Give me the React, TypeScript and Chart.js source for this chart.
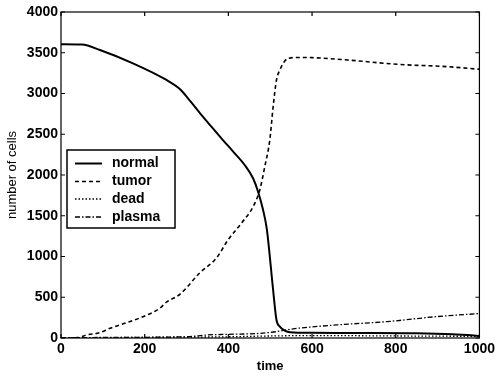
import React, { useEffect, useRef } from "react";
import { Chart, registerables } from "chart.js";

Chart.register(...registerables);

const seriesNames = ["normal", "tumor", "dead", "plasma"];

const normalTime = [0, 50, 93, 172, 252, 284, 310, 332, 360, 387, 411, 439, 459, 471, 483, 491, 495, 506, 515, 523, 535, 547, 600, 700, 849, 936, 992, 1000];
const normalCells = [3605, 3600, 3534, 3370, 3166, 3055, 2900, 2760, 2590, 2429, 2290, 2123, 1960, 1795, 1570, 1366, 1202, 638, 221, 139, 90, 70, 63, 61, 57, 45, 28, 25];

const tumorTime = [0, 40, 61, 93, 117, 157, 196, 236, 252, 284, 332, 372, 399, 431, 459, 475, 487, 499, 507, 515, 523, 531, 543, 570, 600, 685, 804, 924, 1000];
const tumorCells = [0, 5, 37, 65, 119, 188, 262, 364, 440, 536, 801, 985, 1202, 1407, 1611, 1816, 2102, 2429, 2838, 3166, 3288, 3370, 3432, 3442, 3440, 3411, 3358, 3329, 3297];

const deadTime = [0, 200, 400, 500, 600, 800, 1000];
const deadCells = [0, 8, 15, 25, 30, 25, 20];

const plasmaTime = [0, 300, 348, 400, 475, 515, 547, 658, 777, 897, 1000];
const plasmaCells = [5, 15, 37, 45, 57, 78, 107, 160, 200, 262, 300];

const xTicks = [0, 200, 400, 600, 800, 1000];
const yTicks = [0, 500, 1000, 1500, 2000, 2500, 3000, 3500, 4000];

const FONT = "'Liberation Sans', Arial, sans-serif";

const styles = [
  { width: 2, dash: [] as number[] },
  { width: 1.6, dash: [4, 3] },
  { width: 1.3, dash: [1.5, 2] },
  { width: 1.3, dash: [5, 2, 1.5, 2] },
];

const pts = (t: number[], v: number[]) => t.map((x, i) => ({ x, y: v[i] }));

const framePlugin = {
  id: "frame",
  afterDatasetsDraw(chart: any) {
    const { ctx, chartArea: a, scales } = chart;
    ctx.save();
    ctx.strokeStyle = "#000";
    ctx.lineWidth = 1.2;
    ctx.setLineDash([]);
    ctx.strokeRect(a.left, a.top, a.right - a.left, a.bottom - a.top);
    const tl = 4;
    ctx.beginPath();
    xTicks.forEach((v) => {
      const px = scales.x.getPixelForValue(v);
      ctx.moveTo(px, a.bottom);
      ctx.lineTo(px, a.bottom - tl);
      ctx.moveTo(px, a.top);
      ctx.lineTo(px, a.top + tl);
    });
    yTicks.forEach((v) => {
      const py = scales.y.getPixelForValue(v);
      ctx.moveTo(a.left, py);
      ctx.lineTo(a.left + tl, py);
      ctx.moveTo(a.right, py);
      ctx.lineTo(a.right - tl, py);
    });
    ctx.stroke();

    // legend
    const bx = 67, by = 150, bw = 108, bh = 78;
    ctx.fillStyle = "#fff";
    ctx.fillRect(bx, by, bw, bh);
    ctx.lineWidth = 1.5;
    ctx.strokeRect(bx, by, bw, bh);
    const rows = [163.5, 181.5, 199, 217];
    ctx.font = `bold 14px ${FONT}`;
    ctx.textBaseline = "middle";
    ctx.textAlign = "left";
    seriesNames.forEach((name, i) => {
      const y = rows[i];
      ctx.beginPath();
      ctx.lineWidth = styles[i].width;
      ctx.setLineDash(styles[i].dash);
      ctx.moveTo(75, y);
      ctx.lineTo(102, y);
      ctx.stroke();
      ctx.setLineDash([]);
      ctx.fillStyle = "#000";
      ctx.fillText(name, 112, y);
    });
    ctx.restore();
  },
};

export default function App() {
  const ref = useRef<HTMLCanvasElement>(null);
  useEffect(() => {
    if (!ref.current) return;
    const series = [
      pts(normalTime, normalCells),
      pts(tumorTime, tumorCells),
      pts(deadTime, deadCells),
      pts(plasmaTime, plasmaCells),
    ];
    const chart = new Chart(ref.current, {
      type: "line",
      data: {
        datasets: series.map((d, i) => ({
          label: seriesNames[i],
          data: d,
          borderColor: "#000",
          borderWidth: styles[i].width,
          borderDash: styles[i].dash,
          pointRadius: 0,
          cubicInterpolationMode: "monotone",
          fill: false,
        })),
      },
      options: {
        animation: false,
        responsive: true,
        maintainAspectRatio: false,
        layout: { padding: { top: 12, right: 18, left: 0, bottom: 0 } },
        plugins: { legend: { display: false }, tooltip: { enabled: false } },
        scales: {
          x: {
            type: "linear",
            min: 0,
            max: 1000,
            afterBuildTicks: (s: any) => {
              s.ticks = xTicks.map((v) => ({ value: v }));
            },
            afterFit: (s: any) => {
              s.height = 38;
            },
            ticks: {
              color: "#000",
              font: { family: FONT, size: 14, weight: "bold" },
              padding: 3,
              maxRotation: 0,
              callback: (v: any) => String(v),
            },
            grid: { display: false, drawTicks: false },
            border: { display: false },
            title: {
              display: true,
              text: "time",
              color: "#000",
              font: { family: FONT, size: 13, weight: "bold" },
              padding: { top: 0, bottom: 2 },
            },
          },
          y: {
            type: "linear",
            min: 0,
            max: 4000,
            afterBuildTicks: (s: any) => {
              s.ticks = yTicks.map((v) => ({ value: v }));
            },
            afterFit: (s: any) => {
              s.width = 61;
            },
            ticks: {
              color: "#000",
              font: { family: FONT, size: 14, weight: "bold" },
              padding: 3,
              callback: (v: any) => String(v),
            },
            grid: { display: false, drawTicks: false },
            border: { display: false },
            title: {
              display: true,
              text: "number of cells",
              color: "#000",
              font: { family: FONT, size: 13 },
              padding: { top: 5, bottom: 0 },
            },
          },
        },
      },
      plugins: [framePlugin],
    });
    return () => chart.destroy();
  }, []);
  return (
    <div style={{ position: "fixed", left: 0, top: 0, width: 498, height: 376, background: "#fff" }}>
      <canvas ref={ref} />
    </div>
  );
}
